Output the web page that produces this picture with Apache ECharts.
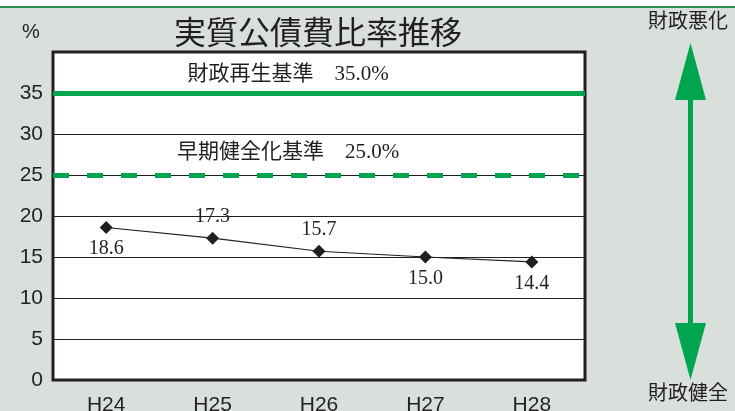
<!DOCTYPE html>
<html><head><meta charset="utf-8">
<script src="https://cdn.jsdelivr.net/npm/echarts@6/dist/echarts.min.js"></script>
<style>html,body{margin:0;padding:0;background:#fff}#c{width:735px;height:411px}</style>
</head><body><div id="c"></div>
<script>
const categories = ['H24','H25','H26','H27','H28'];
const ratio = [18.6, 17.3, 15.7, 15.0, 14.4];
const labelPos = ['bottom','top','top','bottom','bottom'];
const thresholds = [35.0, 25.0];
const thresholdNames = ['財政再生基準', '早期健全化基準'];
const yTicks = [0,5,10,15,20,25,30,35];

const serif = '"Liberation Serif","Noto Sans CJK JP",serif';
const sans = '"Liberation Sans",Arial,sans-serif';
const cjk = '"Noto Sans CJK JP",sans-serif';
const chart = echarts.init(document.getElementById('c'));
chart.setOption({
  backgroundColor: '#d9dfdb',
  animation: false,
  grid: {left: 53, right: 150, top: 52, bottom: 31, show: true, backgroundColor: '#ffffff', borderColor: '#231f20', borderWidth: 3, containLabel: false, outerBoundsMode: 'none'},
  xAxis: {
    type: 'category', data: categories,
    axisLine: {show: false}, axisTick: {show: false},
    axisLabel: {color: '#231f20', fontSize: 21, fontFamily: sans, margin: 15}
  },
  yAxis: {
    type: 'value', min: 0, max: 40, interval: 5,
    axisLine: {show: false}, axisTick: {show: false},
    axisLabel: {color: '#231f20', fontSize: 21, fontFamily: sans, margin: 10,
      formatter: v => yTicks.includes(v) ? String(v) : ''},
    splitLine: {lineStyle: {color: '#231f20', width: 1}}
  },
  graphic: [
    {type: 'rect', shape: {x: 0, y: 0, width: 735, height: 6}, style: {fill: '#ffffff'}},
    {type: 'rect', shape: {x: 0, y: 6, width: 735, height: 2}, style: {fill: '#2f8f50'}},
    {type: 'text', x: 22, y: 22, style: {text: '%', fontSize: 20, fontFamily: sans, fill: '#231f20'}},
    {type: 'text', x: 318, y: 32, style: {text: '実質公債費比率推移', fontSize: 32, fontFamily: cjk, fill: '#231f20', align: 'center', verticalAlign: 'middle'}},
    {type: 'text', x: 688, y: 20, style: {text: '財政悪化', fontSize: 20, fontFamily: cjk, fill: '#231f20', align: 'center', verticalAlign: 'middle'}},
    {type: 'text', x: 688, y: 392, style: {text: '財政健全', fontSize: 20, fontFamily: cjk, fill: '#231f20', align: 'center', verticalAlign: 'middle'}},
    {type: 'rect', shape: {x: 688, y: 95, width: 5, height: 232}, style: {fill: '#00a64f'}},
    {type: 'polygon', shape: {points: [[690.5, 43], [675, 100], [706, 100]]}, style: {fill: '#00a64f'}},
    {type: 'polygon', shape: {points: [[690.5, 380], [675, 323], [706, 323]]}, style: {fill: '#00a64f'}}
  ],
  series: [{
    type: 'line', data: ratio.map((v, i) => ({value: v, label: {position: labelPos[i]}})),
    symbol: 'diamond', symbolSize: 13,
    itemStyle: {color: '#231f20'},
    lineStyle: {color: '#231f20', width: 1.2},
    label: {show: true, fontSize: 20, fontFamily: serif, color: '#231f20', distance: 5, formatter: p => p.value.toFixed(1)},
    z: 5,
    markLine: {
      silent: true, symbol: 'none',
      data: [
        {yAxis: thresholds[0], lineStyle: {color: '#00a64f', width: 5, type: 'solid'},
         label: {formatter: thresholdNames[0] + '　' + thresholds[0].toFixed(1) + '%', position: 'insideMiddleTop', distance: 8, offset: [-31, 0]}},
        {yAxis: thresholds[1], lineStyle: {color: '#00a64f', width: 5, type: [16, 18]},
         label: {formatter: thresholdNames[1] + '　' + thresholds[1].toFixed(1) + '%', position: 'insideMiddleTop', distance: 12, offset: [-31, 0]}}
      ],
      label: {fontSize: 21, fontFamily: serif, color: '#231f20'}
    }
  }]
});
</script></body></html>
